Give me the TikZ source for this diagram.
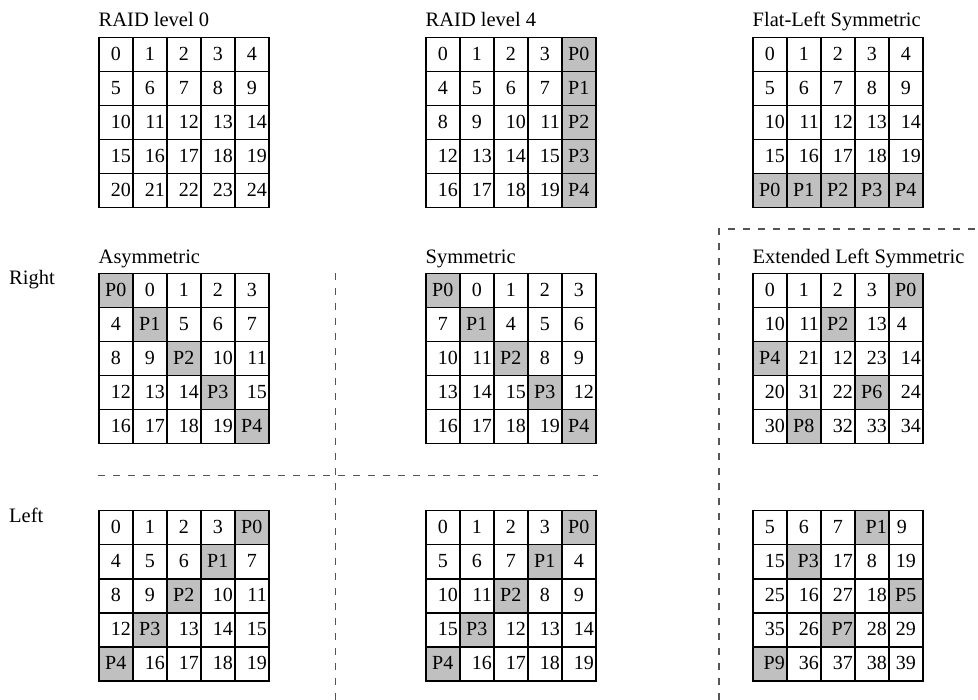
\documentclass[tikz,border=0pt]{standalone}
\usepackage{fontspec}
\setmainfont{Liberation Serif}
\definecolor{pgray}{RGB}{192,192,192}
\definecolor{dgray}{RGB}{85,85,85}
\tikzset{
  cellbase/.style={draw=black, line width=1.5pt, anchor=north west,
    minimum height=34pt, text width=30pt, inner xsep=2pt, inner ysep=0pt,
    text height=11pt, text depth=0pt, font=\fontsize{20}{24}\selectfont},
  cellc/.style={cellbase, align=center},
  cellr/.style={cellbase, align=right},
  cellp/.style={cellbase, align=center, fill=pgray},
  cellq/.style={cellbase, align=right, fill=pgray},
  gtitle/.style={inner sep=0pt, anchor=base west, font=\fontsize{20.5}{24}\selectfont},
  sepline/.style={draw=dgray, line width=1.1pt, dash pattern=on 7pt off 8pt},
}
\newcommand\raidgrid[4]{%
  \foreach \t/\k [count=\i from 0] in {#4} {
    \pgfmathtruncatemacro\rr{int(\i/5)}
    \pgfmathtruncatemacro\cc{mod(\i,5)}
    \pgfmathsetmacro\xl{#2+34*\cc}
    \pgfmathsetmacro\yt{#3+34*\rr}
    \if c\k \node[cellc] (#1-\i) at (\xl,\yt) {\t};\fi
    \if r\k \node[cellr] (#1-\i) at (\xl,\yt) {\t};\fi
    \if p\k \node[cellp] (#1-\i) at (\xl,\yt) {\t};\fi
    \if q\k \node[cellq] (#1-\i) at (\xl,\yt) {\t};\fi
    \if l\k \node[cellc] (#1-\i) at (\xl,\yt) {\kern-8pt\t};\fi
  }%
}
\begin{document}
\begin{tikzpicture}[x=1pt,y=-1pt]
\useasboundingbox (0,0) rectangle (978,700);

% titles
\node[gtitle] (t0) at (98.5,27) {RAID level 0};
\node[gtitle] (t4) at (425.5,27) {RAID level 4};
\node[gtitle] (tfl) at (752.5,27) {Flat-Left Symmetric};
\node[gtitle] (tas) at (98.5,264) {Asymmetric};
\node[gtitle] (tsy) at (425.5,264) {Symmetric};
\node[gtitle] (tel) at (752.5,264) {Extended Left Symmetric};
\node[gtitle] (lright) at (9,285) {Right};
\node[gtitle] (lleft) at (9,522) {Left};

% grids
\raidgrid{ga}{98}{37}{0/c,1/c,2/c,3/c,4/c,5/c,6/c,7/c,8/c,9/c,10/r,11/r,12/r,13/r,14/r,15/r,16/r,17/r,18/r,19/r,20/r,21/r,22/r,23/r,24/r}
\raidgrid{gb}{425}{37}{0/c,1/c,2/c,3/c,P0/p,4/c,5/c,6/c,7/c,P1/p,8/c,9/c,10/r,11/r,P2/p,12/r,13/r,14/r,15/r,P3/p,16/r,17/r,18/r,19/r,P4/p}
\raidgrid{gc}{752}{37}{0/c,1/c,2/c,3/c,4/c,5/c,6/c,7/c,8/c,9/c,10/r,11/r,12/r,13/r,14/r,15/r,16/r,17/r,18/r,19/r,P0/p,P1/p,P2/p,P3/p,P4/p}
\raidgrid{gd}{98}{273}{P0/p,0/c,1/c,2/c,3/c,4/c,P1/p,5/c,6/c,7/c,8/c,9/c,P2/p,10/r,11/r,12/r,13/r,14/r,P3/p,15/r,16/r,17/r,18/r,19/r,P4/p}
\raidgrid{ge}{425}{273}{P0/p,0/c,1/c,2/c,3/c,7/c,P1/p,4/c,5/c,6/c,10/r,11/r,P2/p,8/c,9/c,13/r,14/r,15/r,P3/p,12/r,16/r,17/r,18/r,19/r,P4/p}
\raidgrid{gf}{752}{273}{0/c,1/c,2/c,3/c,P0/p,10/r,11/r,P2/p,13/r,4/l,P4/p,21/r,12/r,23/r,14/r,20/r,31/r,22/r,P6/p,24/r,30/r,P8/p,32/r,33/r,34/r}
\raidgrid{gg}{98}{510}{0/c,1/c,2/c,3/c,P0/p,4/c,5/c,6/c,P1/p,7/c,8/c,9/c,P2/p,10/r,11/r,12/r,P3/p,13/r,14/r,15/r,P4/p,16/r,17/r,18/r,19/r}
\raidgrid{gh}{425}{510}{0/c,1/c,2/c,3/c,P0/p,5/c,6/c,7/c,P1/p,4/c,10/r,11/r,P2/p,8/c,9/c,15/r,P3/p,12/r,13/r,14/r,P4/p,16/r,17/r,18/r,19/r}
\raidgrid{gi}{752}{510}{5/c,6/c,7/c,P1/q,9/l,15/r,P3/q,17/r,8/c,19/c,25/r,16/r,27/r,18/r,P5/p,35/r,26/r,P7/q,28/r,29/c,P9/q,36/r,37/r,38/r,39/c}

% separators
\coordinate (v1t) at (335.5,273);
\coordinate (v1b) at (335.5,700);
\coordinate (h1l) at (98,475.5);
\coordinate (h1r) at (598,475.5);
\coordinate (v2b) at (719,700);
\coordinate (v2t) at (719,229);
\coordinate (h2r) at (978,229);
\draw[sepline] (v1t) -- (v1b);
\draw[sepline] (h1l) -- (h1r);
\draw[sepline] (v2b) -- (v2t) -- (h2r);
\end{tikzpicture}
\end{document}
